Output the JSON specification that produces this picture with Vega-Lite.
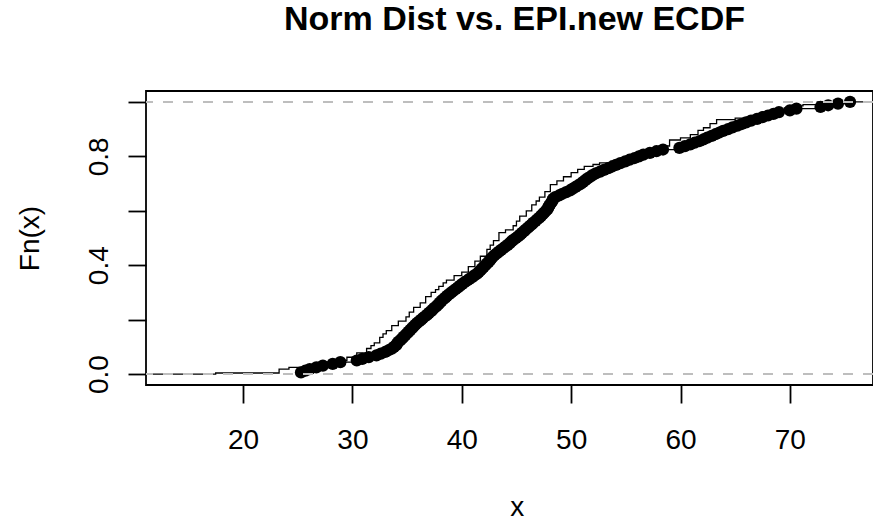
{
  "$schema": "https://vega.github.io/schema/vega-lite/v6.json",
  "autosize": {"type": "none"},
  "padding": {"left": 146, "top": 91, "right": 0, "bottom": 136},
  "width": 727,
  "height": 294,
  "config": {
    "font": "Liberation Sans",
    "view": {"stroke": "#000000", "strokeWidth": 1.8},
    "axis": {"grid": false, "domain": false, "tickColor": "#000000", "tickWidth": 1.8, "tickSize": 18, "labelColor": "#000000", "titleColor": "#000000", "labelFontSize": 28, "titleFontSize": 28, "titleFontWeight": "normal", "labelFont": "Liberation Sans", "titleFont": "Liberation Sans"}
  },
  "title": {"text": "Norm Dist vs. EPI.new ECDF", "fontSize": 34, "fontWeight": "bold", "font": "Liberation Sans", "color": "#000000", "anchor": "middle", "baseline": "alphabetic", "offset": 27, "dx": 5},
  "datasets": {
    "norm": [
      {"x": 11.13, "F": 0}, {"x": 17.5, "F": 0.004}, {"x": 23.3, "F": 0.018}, {"x": 24.2, "F": 0.025}, {"x": 26.0, "F": 0.03}, {"x": 27.5, "F": 0.04}, {"x": 28.5, "F": 0.05}, {"x": 29.5, "F": 0.062}, {"x": 30.4, "F": 0.078}, {"x": 31.3, "F": 0.094}, {"x": 31.7, "F": 0.105}, {"x": 32.0, "F": 0.115}, {"x": 32.5, "F": 0.135}, {"x": 32.8, "F": 0.148}, {"x": 33.1, "F": 0.16}, {"x": 33.6, "F": 0.178}, {"x": 34.2, "F": 0.195}, {"x": 34.9, "F": 0.21}, {"x": 35.2, "F": 0.228}, {"x": 35.6, "F": 0.245}, {"x": 36.2, "F": 0.262}, {"x": 36.7, "F": 0.285}, {"x": 37.2, "F": 0.3}, {"x": 37.6, "F": 0.31}, {"x": 37.9, "F": 0.322}, {"x": 38.3, "F": 0.335}, {"x": 38.6, "F": 0.345}, {"x": 39.3, "F": 0.362}, {"x": 40.0, "F": 0.375}, {"x": 40.6, "F": 0.395}, {"x": 41.2, "F": 0.415}, {"x": 41.7, "F": 0.433}, {"x": 42.3, "F": 0.458}, {"x": 42.6, "F": 0.474}, {"x": 42.9, "F": 0.49}, {"x": 43.4, "F": 0.52}, {"x": 44.0, "F": 0.53}, {"x": 44.7, "F": 0.545}, {"x": 45.0, "F": 0.562}, {"x": 45.3, "F": 0.58}, {"x": 45.9, "F": 0.6}, {"x": 46.4, "F": 0.622}, {"x": 46.8, "F": 0.636}, {"x": 47.1, "F": 0.65}, {"x": 47.6, "F": 0.67}, {"x": 48.1, "F": 0.696}, {"x": 48.7, "F": 0.71}, {"x": 49.3, "F": 0.725}, {"x": 50.0, "F": 0.74}, {"x": 50.6, "F": 0.752}, {"x": 51.2, "F": 0.763}, {"x": 52.0, "F": 0.77}, {"x": 52.6, "F": 0.776}, {"x": 53.6, "F": 0.782}, {"x": 54.6, "F": 0.79}, {"x": 55.7, "F": 0.796}, {"x": 56.5, "F": 0.81}, {"x": 57.4, "F": 0.822}, {"x": 58.3, "F": 0.838}, {"x": 59.0, "F": 0.86}, {"x": 60.0, "F": 0.868}, {"x": 60.9, "F": 0.88}, {"x": 61.6, "F": 0.895}, {"x": 62.1, "F": 0.905}, {"x": 62.7, "F": 0.92}, {"x": 63.3, "F": 0.935}, {"x": 65.0, "F": 0.94}, {"x": 66.3, "F": 0.945}, {"x": 67.4, "F": 0.962}, {"x": 68.5, "F": 0.97}, {"x": 69.5, "F": 0.978}, {"x": 70.5, "F": 0.985}, {"x": 71.2, "F": 0.99}, {"x": 72.5, "F": 1.0}, {"x": 77.6, "F": 1.0}
    ],
    "epi": [
      {"x": 25.3, "F": 0.00625}, {"x": 25.7, "F": 0.0125}, {"x": 26.1, "F": 0.01875}, {"x": 26.7, "F": 0.025}, {"x": 27.3, "F": 0.03125}, {"x": 28.2, "F": 0.0375}, {"x": 28.9, "F": 0.04375}, {"x": 30.4, "F": 0.05}, {"x": 30.9, "F": 0.05625}, {"x": 31.5, "F": 0.0625},
      {"x": 32.2, "F": 0.06875}, {"x": 32.6, "F": 0.075}, {"x": 33.0, "F": 0.08125}, {"x": 33.3, "F": 0.0875}, {"x": 33.6, "F": 0.09375}, {"x": 33.8, "F": 0.1}, {"x": 34.0, "F": 0.10625}, {"x": 34.1, "F": 0.1125}, {"x": 34.2, "F": 0.11875}, {"x": 34.4, "F": 0.125},
      {"x": 34.55, "F": 0.13125}, {"x": 34.7, "F": 0.1375}, {"x": 34.85, "F": 0.14375}, {"x": 35.0, "F": 0.15}, {"x": 35.15, "F": 0.15625}, {"x": 35.3, "F": 0.1625}, {"x": 35.45, "F": 0.16875}, {"x": 35.6, "F": 0.175}, {"x": 35.75, "F": 0.18125}, {"x": 35.9, "F": 0.1875},
      {"x": 36.1, "F": 0.19375}, {"x": 36.3, "F": 0.2}, {"x": 36.45, "F": 0.20625}, {"x": 36.65, "F": 0.2125}, {"x": 36.85, "F": 0.21875}, {"x": 37.0, "F": 0.225}, {"x": 37.2, "F": 0.23125}, {"x": 37.35, "F": 0.2375}, {"x": 37.5, "F": 0.24375}, {"x": 37.7, "F": 0.25},
      {"x": 37.85, "F": 0.25625}, {"x": 38.0, "F": 0.2625}, {"x": 38.15, "F": 0.26875}, {"x": 38.3, "F": 0.275}, {"x": 38.5, "F": 0.28125}, {"x": 38.65, "F": 0.2875}, {"x": 38.85, "F": 0.29375}, {"x": 39.05, "F": 0.3}, {"x": 39.25, "F": 0.30625}, {"x": 39.45, "F": 0.3125},
      {"x": 39.65, "F": 0.31875}, {"x": 39.85, "F": 0.325}, {"x": 40.05, "F": 0.33125}, {"x": 40.25, "F": 0.3375}, {"x": 40.5, "F": 0.34375}, {"x": 40.7, "F": 0.35}, {"x": 40.95, "F": 0.35625}, {"x": 41.15, "F": 0.3625}, {"x": 41.4, "F": 0.36875}, {"x": 41.55, "F": 0.375},
      {"x": 41.7, "F": 0.38125}, {"x": 41.85, "F": 0.3875}, {"x": 42.0, "F": 0.39375}, {"x": 42.15, "F": 0.4}, {"x": 42.3, "F": 0.40625}, {"x": 42.45, "F": 0.4125}, {"x": 42.6, "F": 0.41875}, {"x": 42.7, "F": 0.425}, {"x": 42.85, "F": 0.43125}, {"x": 43.0, "F": 0.4375},
      {"x": 43.2, "F": 0.44375}, {"x": 43.4, "F": 0.45}, {"x": 43.6, "F": 0.45625}, {"x": 43.8, "F": 0.4625}, {"x": 44.0, "F": 0.46875}, {"x": 44.2, "F": 0.475}, {"x": 44.4, "F": 0.48125}, {"x": 44.55, "F": 0.4875}, {"x": 44.75, "F": 0.49375}, {"x": 44.95, "F": 0.5},
      {"x": 45.15, "F": 0.50625}, {"x": 45.35, "F": 0.5125}, {"x": 45.5, "F": 0.51875}, {"x": 45.7, "F": 0.525}, {"x": 45.85, "F": 0.53125}, {"x": 46.05, "F": 0.5375}, {"x": 46.2, "F": 0.54375}, {"x": 46.4, "F": 0.55}, {"x": 46.55, "F": 0.55625}, {"x": 46.75, "F": 0.5625},
      {"x": 46.9, "F": 0.56875}, {"x": 47.1, "F": 0.575}, {"x": 47.25, "F": 0.58125}, {"x": 47.4, "F": 0.5875}, {"x": 47.55, "F": 0.59375}, {"x": 47.7, "F": 0.6}, {"x": 47.85, "F": 0.60625}, {"x": 47.9, "F": 0.6125}, {"x": 48.0, "F": 0.61875}, {"x": 48.1, "F": 0.625},
      {"x": 48.2, "F": 0.63125}, {"x": 48.3, "F": 0.6375}, {"x": 48.35, "F": 0.64375}, {"x": 48.55, "F": 0.65}, {"x": 48.9, "F": 0.65625}, {"x": 49.2, "F": 0.6625}, {"x": 49.55, "F": 0.66875}, {"x": 49.9, "F": 0.675}, {"x": 50.15, "F": 0.68125}, {"x": 50.4, "F": 0.6875},
      {"x": 50.65, "F": 0.69375}, {"x": 50.9, "F": 0.7}, {"x": 51.1, "F": 0.70625}, {"x": 51.3, "F": 0.7125}, {"x": 51.5, "F": 0.71875}, {"x": 51.75, "F": 0.725}, {"x": 51.95, "F": 0.73125}, {"x": 52.25, "F": 0.7375}, {"x": 52.65, "F": 0.74375}, {"x": 53.0, "F": 0.75},
      {"x": 53.4, "F": 0.75625}, {"x": 53.75, "F": 0.7625}, {"x": 54.1, "F": 0.76875}, {"x": 54.5, "F": 0.775}, {"x": 54.95, "F": 0.78125}, {"x": 55.35, "F": 0.7875}, {"x": 55.8, "F": 0.79375}, {"x": 56.2, "F": 0.8}, {"x": 56.6, "F": 0.80625}, {"x": 57.2, "F": 0.8125},
      {"x": 57.8, "F": 0.81875}, {"x": 58.4, "F": 0.825}, {"x": 59.9, "F": 0.83125}, {"x": 60.4, "F": 0.8375}, {"x": 60.9, "F": 0.84375}, {"x": 61.3, "F": 0.85}, {"x": 61.75, "F": 0.85625}, {"x": 62.1, "F": 0.8625}, {"x": 62.45, "F": 0.86875}, {"x": 62.85, "F": 0.875},
      {"x": 63.2, "F": 0.88125}, {"x": 63.55, "F": 0.8875}, {"x": 63.9, "F": 0.89375}, {"x": 64.35, "F": 0.9}, {"x": 64.75, "F": 0.90625}, {"x": 65.2, "F": 0.9125}, {"x": 65.6, "F": 0.91875}, {"x": 66.0, "F": 0.925}, {"x": 66.45, "F": 0.93125}, {"x": 67.0, "F": 0.9375},
      {"x": 67.5, "F": 0.94375}, {"x": 68.0, "F": 0.95}, {"x": 68.5, "F": 0.95625}, {"x": 69.0, "F": 0.9625}, {"x": 70.0, "F": 0.96875}, {"x": 70.6, "F": 0.975}, {"x": 72.8, "F": 0.98125}, {"x": 73.5, "F": 0.9875}, {"x": 74.4, "F": 0.99375}, {"x": 75.5, "F": 1.0}
    ],
    "hlines": [{"h": 0}, {"h": 1}]
  },
  "encoding": {
    "x": {"field": "x", "type": "quantitative", "scale": {"domain": [11.13, 77.6], "nice": false, "zero": false},
      "axis": {"values": [20, 30, 40, 50, 60, 70], "format": "d", "labelPadding": 45, "labelBaseline": "alphabetic", "labelAlign": "center", "title": "x", "titleX": 370.7, "titleY": 130.5, "titleAlign": "center", "titleBaseline": "alphabetic"}},
    "y": {"field": "F", "type": "quantitative", "scale": {"domain": [-0.04, 1.04], "nice": false, "zero": false},
      "axis": {"values": [0, 0.2, 0.4, 0.6, 0.8, 1], "labelExpr": "datum.value == 0 || datum.value == 0.4 || datum.value == 0.8 ? format(datum.value, '.1f') : ''", "labelAngle": 270, "labelAlign": "center", "labelBaseline": "alphabetic", "labelPadding": 21, "title": "Fn(x)", "titleAngle": 270, "titleX": -107.7, "titleY": 147, "titleAlign": "center", "titleBaseline": "alphabetic"}}
  },
  "layer": [
    {"data": {"name": "norm"}, "mark": {"type": "line", "interpolate": "step-after", "color": "#000000", "strokeWidth": 1.3, "clip": true}},
    {"data": {"name": "epi"}, "mark": {"type": "line", "interpolate": "step-after", "color": "#000000", "strokeWidth": 1.3, "clip": true}},
    {"data": {"name": "epi"}, "mark": {"type": "circle", "color": "#000000", "opacity": 1, "size": 150, "clip": true}},
    {"data": {"name": "hlines"}, "mark": {"type": "rule", "color": "#bebebe", "strokeWidth": 2, "strokeDash": [10, 10]}, "encoding": {"y": {"field": "h", "type": "quantitative"}, "x": null}}
  ]
}
